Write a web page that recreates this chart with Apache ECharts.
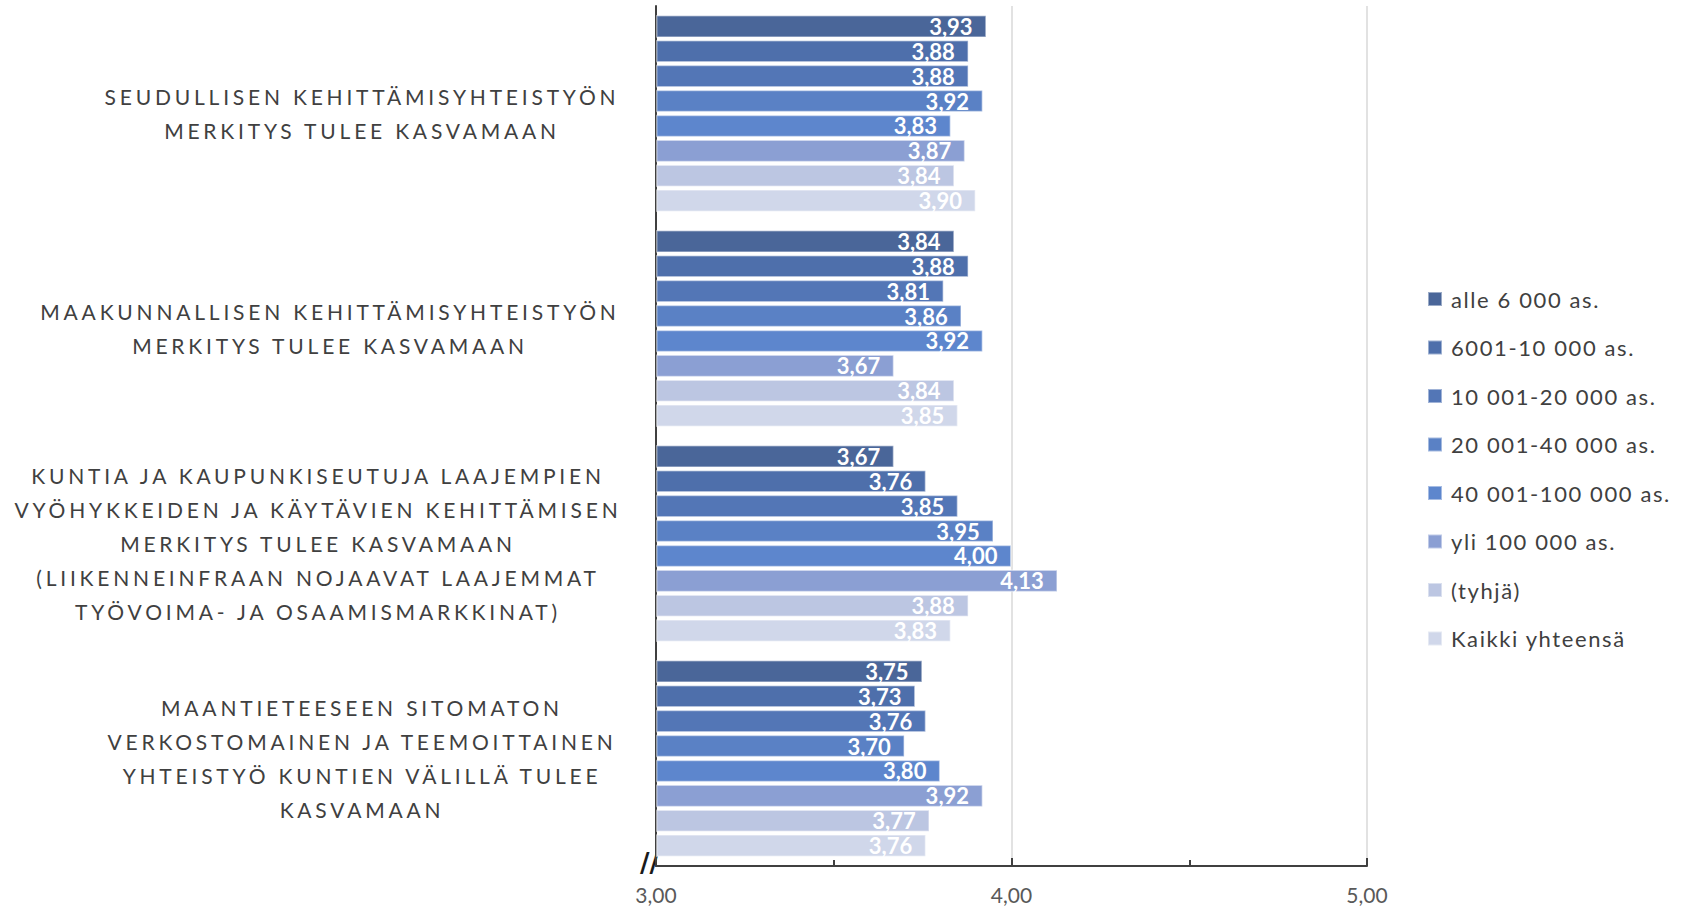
<!DOCTYPE html>
<html>
<head>
<meta charset="utf-8">
<title>Kehittämisyhteistyö</title>
<script src="https://cdn.jsdelivr.net/npm/echarts@6/dist/echarts.min.js"></script>
<style>
  html, body { margin: 0; padding: 0; background: #fff; }
  #chart { width: 1691px; height: 909px; }
  /* Excelin harvennettu kirjainväli luokka- ja selitetekstiin */
  #chart text[style*="Carlito"] { letter-spacing: 3.8px; }
  #chart text[style*="Calibri"] { letter-spacing: 1.6px; }
</style>
</head>
<body>
<div id="chart"></div>
<script>
// väittämät (y-akselin luokat)
const categories = [
  'SEUDULLISEN KEHITTÄMISYHTEISTYÖN\nMERKITYS TULEE KASVAMAAN',
  'MAAKUNNALLISEN KEHITTÄMISYHTEISTYÖN\nMERKITYS TULEE KASVAMAAN',
  'KUNTIA JA KAUPUNKISEUTUJA LAAJEMPIEN\nVYÖHYKKEIDEN JA KÄYTÄVIEN KEHITTÄMISEN\nMERKITYS TULEE KASVAMAAN\n(LIIKENNEINFRAAN NOJAAVAT LAAJEMMAT\nTYÖVOIMA- JA OSAAMISMARKKINAT)',
  'MAANTIETEESEEN SITOMATON\nVERKOSTOMAINEN JA TEEMOITTAINEN\nYHTEISTYÖ KUNTIEN VÄLILLÄ TULEE\nKASVAMAAN'
]

// kuntakokoluokat (sarjat)
const seriesNames = [
  'alle 6 000 as.',
  '6001-10 000 as.',
  '10 001-20 000 as.',
  '20 001-40 000 as.',
  '40 001-100 000 as.',
  'yli 100 000 as.',
  '(tyhjä)',
  'Kaikki yhteensä'
]

// keskiarvot per sarja, väittämien järjestyksessä
const alle6000 = [3.93, 3.84, 3.67, 3.75]
const v6001_10000 = [3.88, 3.88, 3.76, 3.73]
const v10001_20000 = [3.88, 3.81, 3.85, 3.76]
const v20001_40000 = [3.92, 3.86, 3.95, 3.70]
const v40001_100000 = [3.83, 3.92, 4.00, 3.80]
const yli100000 = [3.87, 3.67, 4.13, 3.92]
const tyhja = [3.84, 3.84, 3.88, 3.77]
const kaikki = [3.90, 3.85, 3.83, 3.76]

const seriesValues = [alle6000, v6001_10000, v10001_20000, v20001_40000, v40001_100000, yli100000, tyhja, kaikki]

const seriesColors = ['#4a6699', '#4e6fab', '#5376b6', '#5a81c5', '#5d86cd', '#8b9fd3', '#bcc6e2', '#d0d7ea']

// x-akselin asteikko
const axisMin = 3
const axisMax = 5
const axisStep = 1

const fmt = (v) => v.toFixed(2).replace('.', ',')

// luokkatekstien vaakasiirto (Excel keskittää ne hieman eri kohtiin)
const labelShift = [0, 64, 88, 0]
const catFont = { fontSize: 21, lineHeight: 34, color: '#404040', fontFamily: 'Lato, Carlito' }
const catRich = {}
labelShift.forEach((s, i) => {
  catRich['c' + i] = Object.assign({ padding: [0, s, 0, 0] }, catFont)
})

const chart = echarts.init(document.getElementById('chart'), null, { renderer: 'svg' })

chart.setOption({
  animation: false,
  textStyle: { fontFamily: 'Lato' },
  grid: {
    left: 656,
    right: 324,
    top: 6,
    bottom: 43
  },
  legend: {
    orient: 'vertical',
    left: 1422,
    top: 283,
    itemWidth: 14,
    itemHeight: 14,
    itemGap: 26.5,
    icon: 'rect',
    data: seriesNames,
    textStyle: { fontSize: 22, color: '#404040', fontFamily: 'Lato, Calibri', padding: [0, 0, 0, 4] }
  },
  xAxis: {
    type: 'value',
    min: axisMin,
    max: axisMax,
    interval: axisStep,
    startValue: axisMin,
    axisLine: { show: true, lineStyle: { color: '#404040', width: 2 } },
    axisTick: { show: true, inside: true, length: 8, lineStyle: { color: '#404040', width: 2 } },
    minorTick: { show: true, splitNumber: 2, length: 6, lineStyle: { color: '#404040', width: 2 } },
    axisLabel: {
      formatter: (v) => fmt(v),
      color: '#595959',
      fontSize: 21,
      margin: 18,
      fontFamily: 'Lato'
    },
    splitLine: { show: true, lineStyle: { color: '#d9d9d9', width: 1.5 } }
  },
  yAxis: {
    type: 'category',
    inverse: true,
    data: categories,
    axisLine: { show: true, lineStyle: { color: '#404040', width: 2 } },
    axisTick: { show: false },
    axisLabel: Object.assign({
      align: 'center',
      margin: 294,
      formatter: (v, i) => '{c' + i + '|' + v + '}',
      rich: catRich
    }, catFont)
  },
  graphic: [
    {
      type: 'text',
      left: 640,
      top: 850,
      style: { text: '//', font: 'bold 26px "DejaVu Sans"', fill: '#1a1a1a' }
    }
  ],
  series: seriesNames.map((name, i) => ({
    name: name,
    type: 'bar',
    data: seriesValues[i],
    barGap: '10%',
    barCategoryGap: '8.4%',
    itemStyle: {
      color: seriesColors[i],
      borderColor: 'rgba(255,255,255,0.45)',
      borderWidth: 1.5
    },
    label: {
      show: true,
      position: 'insideRight',
      distance: 14,
      formatter: (p) => fmt(p.value),
      color: '#ffffff',
      fontWeight: 'bold',
      fontSize: 22,
      fontFamily: 'Lato'
    }
  }))
})
</script>
</body>
</html>
